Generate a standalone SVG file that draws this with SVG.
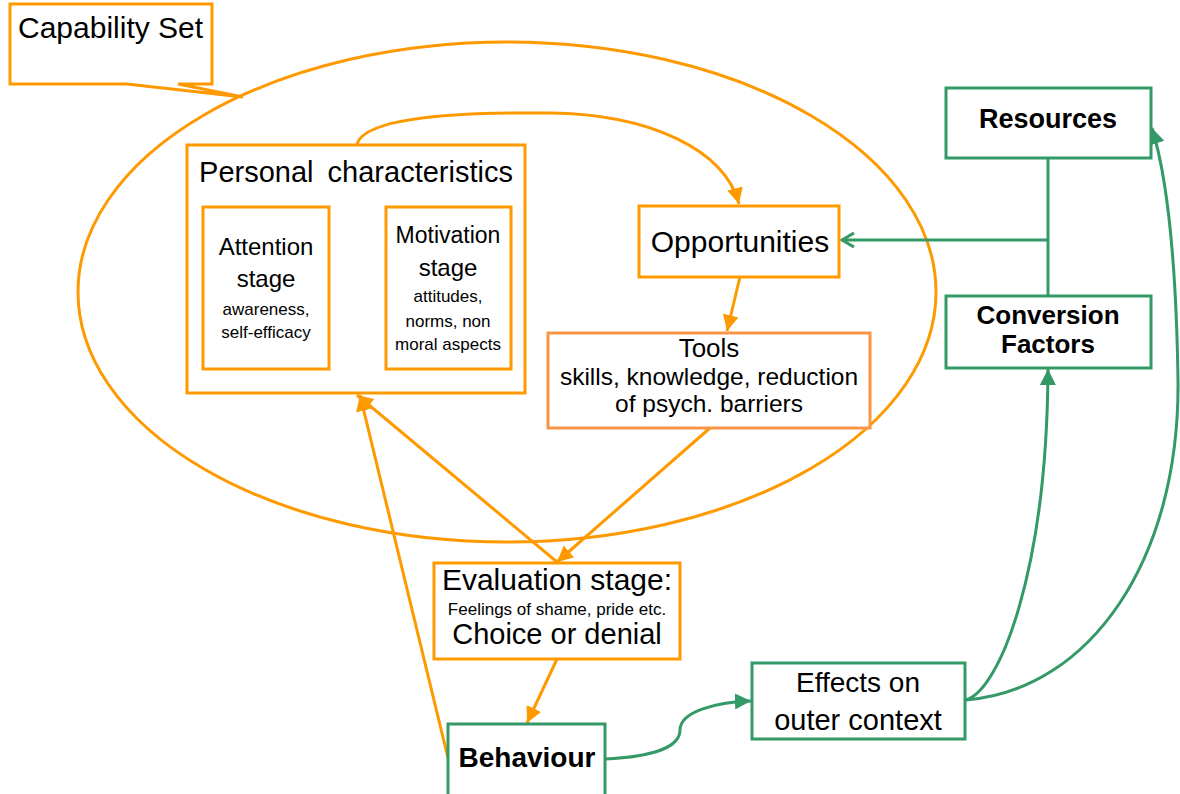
<svg xmlns="http://www.w3.org/2000/svg" width="1180" height="794" viewBox="0 0 1180 794">
<defs>
<style>
.o{fill:none;stroke:#FF9900;stroke-width:3}
.ob{fill:#fff;stroke:#FF9900;stroke-width:3}
.tb{fill:#fff;stroke:#F79646;stroke-width:3}
.gb{fill:#fff;stroke:#339966;stroke-width:3}
.g{fill:none;stroke:#339966;stroke-width:3}
text{font-family:"Liberation Sans",Arial,sans-serif;fill:#000;text-anchor:middle}
.b{font-weight:bold}
</style>
<marker id="ao" markerUnits="userSpaceOnUse" markerWidth="18" markerHeight="16" refX="16" refY="8" orient="auto"><path d="M0,0 L16,8 L0,16 Z" fill="#FF9900"/></marker>
<marker id="ag" markerUnits="userSpaceOnUse" markerWidth="18" markerHeight="16" refX="16" refY="8" orient="auto"><path d="M0,0 L16,8 L0,16 Z" fill="#339966"/></marker>
<marker id="agOpen" markerUnits="userSpaceOnUse" markerWidth="16" markerHeight="16" refX="13" refY="8" orient="auto"><path d="M1,1 L13,8 L1,15" fill="none" stroke="#339966" stroke-width="3"/></marker>
</defs>

<g id="capability-set">
<ellipse cx="507" cy="292" rx="429" ry="250" class="o"/>
<path d="M10,4 H212 V84 H178 L243,97 L127,84 H10 Z" class="ob"/>
<text x="18" y="38" font-size="30" style="text-anchor:start">Capability Set</text>
</g>

<g id="connectors">
<path d="M357,144 C365,118 450,112 550,113 C650,114 725,150 739,204" class="o" marker-end="url(#ao)"/>
<line x1="329" y1="288" x2="384" y2="288" class="o" marker-end="url(#ao)"/>
<line x1="740" y1="277" x2="727" y2="331" class="o" marker-end="url(#ao)"/>
<line x1="710" y1="428" x2="557" y2="562" class="o" marker-end="url(#ao)"/>
<line x1="557" y1="562" x2="357" y2="395" class="o" marker-end="url(#ao)"/>
<line x1="448" y1="758" x2="360" y2="395" class="o" marker-end="url(#ao)"/>
<line x1="557" y1="659" x2="527" y2="723" class="o" marker-end="url(#ao)"/>
<path d="M1048,158 V296" class="g"/>
<path d="M1048,240 H842" class="g" marker-end="url(#agOpen)"/>
<path d="M605,759 C650,757 680,748 680,730 C680,712 715,702 751,701" class="g" marker-end="url(#ag)"/>
<path d="M966,700 C1000,690 1047,570 1048,369" class="g" marker-end="url(#ag)"/>
<path d="M966,700 C1090,690 1180,560 1178,380 C1176,250 1165,170 1152,128" class="g" marker-end="url(#ag)"/>
</g>

<g id="personal-characteristics">
<rect x="187" y="145" width="338" height="248" class="ob"/>
<text x="356" y="182" font-size="29" word-spacing="6">Personal characteristics</text>
</g>

<g id="attention-stage">
<rect x="203" y="207" width="126" height="162" class="ob"/>
<text x="266" y="255" font-size="24">Attention</text>
<text x="266" y="287" font-size="24">stage</text>
<text x="266" y="315" font-size="17">awareness,</text>
<text x="266" y="338" font-size="17">self-efficacy</text>
</g>

<g id="motivation-stage">
<rect x="386" y="207" width="125" height="162" class="ob"/>
<text x="448" y="243" font-size="23">Motivation</text>
<text x="448" y="276" font-size="24">stage</text>
<text x="448" y="302" font-size="17">attitudes,</text>
<text x="448" y="327" font-size="17">norms, non</text>
<text x="448" y="350" font-size="17">moral aspects</text>
</g>

<g id="opportunities">
<rect x="639" y="206" width="200" height="71" class="ob"/>
<text x="740" y="252" font-size="30">Opportunities</text>
</g>

<g id="tools">
<rect x="548" y="333" width="322" height="95" class="tb"/>
<text x="709" y="357" font-size="26">Tools</text>
<text x="709" y="385" font-size="24.5">skills, knowledge, reduction</text>
<text x="709" y="412" font-size="24.5">of psych. barriers</text>
</g>

<g id="evaluation-stage">
<rect x="434" y="563" width="246" height="96" class="ob"/>
<text x="557" y="590" font-size="30">Evaluation stage:</text>
<text x="557" y="615" font-size="17">Feelings of shame, pride etc.</text>
<text x="557" y="644" font-size="29">Choice or denial</text>
</g>

<g id="behaviour">
<rect x="448" y="724" width="157" height="80" class="gb"/>
<text x="527" y="767" font-size="28" class="b">Behaviour</text>
</g>

<g id="effects-on-outer-context">
<rect x="752" y="663" width="213" height="76" class="gb"/>
<text x="858" y="692" font-size="28">Effects on</text>
<text x="858" y="730" font-size="29">outer context</text>
</g>

<g id="resources">
<rect x="946" y="88" width="205" height="70" class="gb"/>
<text x="1048" y="128" font-size="27" class="b">Resources</text>
</g>

<g id="conversion-factors">
<rect x="946" y="296" width="205" height="72" class="gb"/>
<text x="1048" y="324" font-size="26" class="b">Conversion</text>
<text x="1048" y="353" font-size="26" class="b">Factors</text>
</g>
</svg>
